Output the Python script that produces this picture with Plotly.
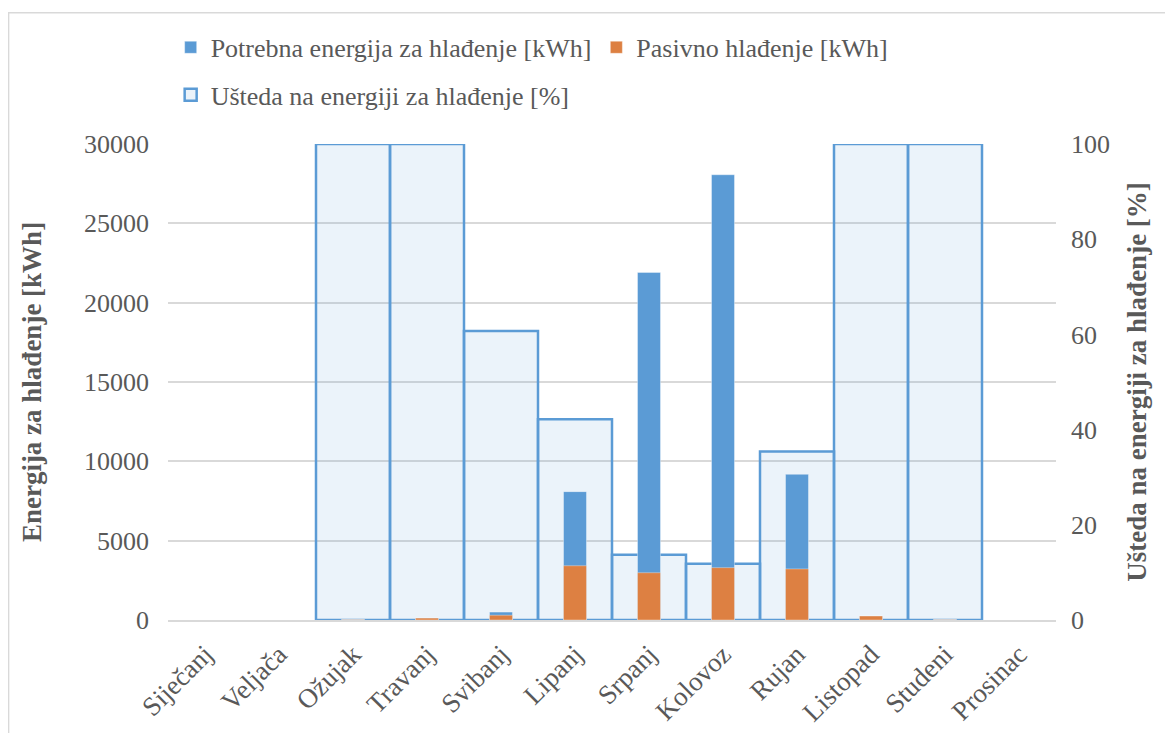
import plotly.graph_objects as go

months = ["Siječanj", "Veljača", "Ožujak", "Travanj", "Svibanj", "Lipanj",
          "Srpanj", "Kolovoz", "Rujan", "Listopad", "Studeni", "Prosinac"]
potrebna = [0, 0, 20, 120, 500, 8090, 21900, 28060, 9180, 250, 20, 0]
pasivno = [0, 0, 20, 120, 300, 3420, 2980, 3300, 3220, 250, 20, 0]
usteda = [None, None, 100, 100, 60.7, 42.2, 13.7, 11.8, 35.4, 100, 100, None]

FONT = "Liberation Serif"
GREY = "#595959"

def f(size):
    return dict(family=FONT, size=size, color=GREY)

fig = go.Figure()
fig.add_trace(go.Bar(
    x=months, y=usteda, name="Ušteda na energiji za hlađenje [%]",
    yaxis="y", width=1.0,
    marker=dict(color="rgba(91,155,213,0.12)", line=dict(color="#5B9BD5", width=2.5)),
    legend="legend2",
))
fig.add_trace(go.Bar(
    x=months, y=potrebna, name="Potrebna energija za hlađenje [kWh]",
    yaxis="y2", width=0.31,
    marker=dict(color="#5B9BD5", line=dict(color="rgba(255,255,255,0.35)", width=1)),
    legend="legend",
))
fig.add_trace(go.Bar(
    x=months, y=pasivno, name="Pasivno hlađenje [kWh]",
    yaxis="y2", width=0.31,
    marker=dict(color="#DD8042", line=dict(color="rgba(255,255,255,0.35)", width=1)),
    legend="legend",
))

fig.update_layout(
    width=1173, height=733,
    margin=dict(l=160, r=125, t=136, b=121, autoexpand=False),
    paper_bgcolor="white", plot_bgcolor="white",
    barmode="overlay",
    font=f(26),
    showlegend=True,
    legend=dict(orientation="h", x=0.003, xanchor="left", y=1.203, yanchor="middle",
                font=f(26), itemwidth=30, traceorder="normal",
                bgcolor="rgba(0,0,0,0)"),
    legend2=dict(orientation="h", x=0.003, xanchor="left", y=1.103, yanchor="middle",
                 font=f(26), itemwidth=30,
                 bgcolor="rgba(0,0,0,0)"),
    xaxis=dict(type="category", range=[-0.5, 11.5], tickangle=-45,
               showline=True, linecolor="#D9D9D9", linewidth=1.5,
               showgrid=False, ticks="", ticklabelstandoff=6,
               tickfont=f(27)),
    yaxis=dict(range=[0, 100], dtick=20, side="right", showgrid=False,
               zeroline=False, ticks="", ticklabelstandoff=14,
               tickfont=f(26),
               title=dict(text="<b>Ušteda na energiji za hlađenje [%]</b>",
                          font=f(27), standoff=18)),
    yaxis2=dict(range=[0, 30000], dtick=5000, side="left", overlaying="y",
                showgrid=True, gridcolor="#D9D9D9", gridwidth=1.5,
                zeroline=False, ticks="", ticklabelstandoff=18, tickformat="d",
                tickfont=f(26),
                title=dict(text="<b>Energija za hlađenje [kWh]</b>",
                           font=f(27), standoff=34)),
    shapes=[dict(type="rect", xref="paper", yref="paper",
                 x0=-0.1795, x1=1.4, y0=-0.6, y1=1.2757,
                 line=dict(color="#D9D9D9", width=1.5), fillcolor="rgba(0,0,0,0)",
                 layer="below")],
)

fig.write_html("out.html")
